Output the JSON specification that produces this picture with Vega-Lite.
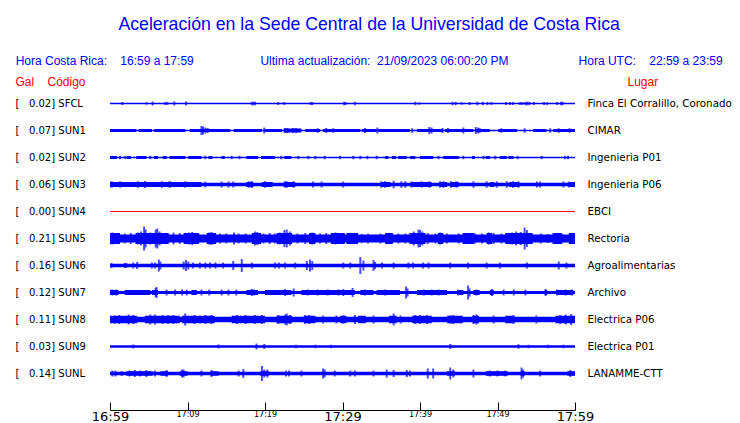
{
  "$schema": "https://vega.github.io/schema/vega-lite/v6.json",
  "width": 465,
  "height": 297,
  "autosize": "none",
  "padding": {"left": 110, "right": 165, "top": 90, "bottom": 36},
  "background": "white",
  "config": {"view": {"stroke": null}},
  "title": {
    "text": "Aceleración en la Sede Central de la Universidad de Costa Rica",
    "subtitle": "Hora Costa Rica:\u00a0\u00a0\u00a0\u00a016:59 a 17:59\u00a0\u00a0\u00a0\u00a0\u00a0\u00a0\u00a0\u00a0\u00a0\u00a0\u00a0\u00a0\u00a0\u00a0\u00a0\u00a0\u00a0\u00a0\u00a0\u00a0Ultima actualización:\u00a0\u00a021/09/2023 06:00:20 PM\u00a0\u00a0\u00a0\u00a0\u00a0\u00a0\u00a0\u00a0\u00a0\u00a0\u00a0\u00a0\u00a0\u00a0\u00a0\u00a0\u00a0\u00a0\u00a0\u00a0\u00a0Hora UTC:\u00a0\u00a0\u00a0\u00a022:59 a 23:59",
    "anchor": "middle",
    "frame": "bounds",
    "dx": -4,
    "font": "Liberation Sans",
    "fontSize": 17.7,
    "fontWeight": "normal",
    "color": "#0000ff",
    "subtitleFont": "Liberation Sans",
    "subtitleFontSize": 12,
    "subtitleColor": "#0000ff",
    "subtitlePadding": 22,
    "offset": 8
  },
  "datasets": {
    "estaciones": [
      {"s": "SFCL", "g": "0.02", "lab": "[\u00a0\u00a0\u00a00.02] SFCL", "lugar": "Finca El Corralillo, Coronado", "w": 1.3},
      {"s": "SUN1", "g": "0.07", "lab": "[\u00a0\u00a0\u00a00.07] SUN1", "lugar": "CIMAR", "w": 1.5},
      {"s": "SUN2", "g": "0.02", "lab": "[\u00a0\u00a0\u00a00.02] SUN2", "lugar": "Ingenieria P01", "w": 1.3},
      {"s": "SUN3", "g": "0.06", "lab": "[\u00a0\u00a0\u00a00.06] SUN3", "lugar": "Ingenieria P06", "w": 3.5},
      {"s": "SUN4", "g": "0.00", "lab": "[\u00a0\u00a0\u00a00.00] SUN4", "lugar": "EBCI", "w": 1},
      {"s": "SUN5", "g": "0.21", "lab": "[\u00a0\u00a0\u00a00.21] SUN5", "lugar": "Rectoria", "w": 8},
      {"s": "SUN6", "g": "0.16", "lab": "[\u00a0\u00a0\u00a00.16] SUN6", "lugar": "Agroalimentarias", "w": 3.5},
      {"s": "SUN7", "g": "0.12", "lab": "[\u00a0\u00a0\u00a00.12] SUN7", "lugar": "Archivo", "w": 3},
      {"s": "SUN8", "g": "0.11", "lab": "[\u00a0\u00a0\u00a00.11] SUN8", "lugar": "Electrica P06", "w": 5.5},
      {"s": "SUN9", "g": "0.03", "lab": "[\u00a0\u00a0\u00a00.03] SUN9", "lugar": "Electrica P01", "w": 2.5},
      {"s": "SUNL", "g": "0.14", "lab": "[\u00a0\u00a0\u00a00.14] SUNL", "lugar": "LANAMME-CTT", "w": 3.5}
    ],
    "segmentos": [
      {"s": "SUN1", "t0": 0, "t1": 3.4, "w": 3},
      {"s": "SUN1", "t0": 3.7, "t1": 5.4, "w": 3},
      {"s": "SUN1", "t0": 5.7, "t1": 9.7, "w": 3},
      {"s": "SUN1", "t0": 10.3, "t1": 15.5, "w": 3},
      {"s": "SUN1", "t0": 16.0, "t1": 19.6, "w": 3},
      {"s": "SUN1", "t0": 20.0, "t1": 22.2, "w": 3},
      {"s": "SUN1", "t0": 22.4, "t1": 24.7, "w": 4},
      {"s": "SUN1", "t0": 25.2, "t1": 27.1, "w": 3},
      {"s": "SUN1", "t0": 27.5, "t1": 32.3, "w": 3},
      {"s": "SUN1", "t0": 32.5, "t1": 34.4, "w": 3},
      {"s": "SUN1", "t0": 34.6, "t1": 38.7, "w": 3},
      {"s": "SUN1", "t0": 39.6, "t1": 43.0, "w": 3},
      {"s": "SUN1", "t0": 43.2, "t1": 46.9, "w": 3},
      {"s": "SUN1", "t0": 47.1, "t1": 49.0, "w": 3},
      {"s": "SUN1", "t0": 50.1, "t1": 52.5, "w": 3},
      {"s": "SUN1", "t0": 54.6, "t1": 56.3, "w": 3},
      {"s": "SUN1", "t0": 57.2, "t1": 60, "w": 3},
      {"s": "SUN2", "t0": 0, "t1": 0.9, "w": 3},
      {"s": "SUN2", "t0": 2.2, "t1": 2.7, "w": 3},
      {"s": "SUN2", "t0": 3.4, "t1": 4.7, "w": 3},
      {"s": "SUN2", "t0": 5.7, "t1": 6.2, "w": 3},
      {"s": "SUN2", "t0": 6.8, "t1": 7.3, "w": 3},
      {"s": "SUN2", "t0": 7.7, "t1": 9.7, "w": 3},
      {"s": "SUN2", "t0": 10.1, "t1": 11.8, "w": 3},
      {"s": "SUN2", "t0": 12.7, "t1": 13.2, "w": 3},
      {"s": "SUN2", "t0": 14.4, "t1": 14.8, "w": 3},
      {"s": "SUN2", "t0": 17.6, "t1": 19.1, "w": 3},
      {"s": "SUN2", "t0": 19.5, "t1": 21.3, "w": 3},
      {"s": "SUN2", "t0": 22.5, "t1": 23.4, "w": 3},
      {"s": "SUN2", "t0": 35.5, "t1": 35.9, "w": 3},
      {"s": "SUN2", "t0": 36.4, "t1": 36.9, "w": 3},
      {"s": "SUN2", "t0": 37.2, "t1": 38.3, "w": 3},
      {"s": "SUN2", "t0": 38.7, "t1": 39.4, "w": 3},
      {"s": "SUN2", "t0": 40.0, "t1": 41.7, "w": 3},
      {"s": "SUN2", "t0": 43.0, "t1": 45.0, "w": 3},
      {"s": "SUN2", "t0": 46.7, "t1": 47.1, "w": 3},
      {"s": "SUN2", "t0": 48.5, "t1": 49.0, "w": 3},
      {"s": "SUN2", "t0": 50.3, "t1": 51.2, "w": 3},
      {"s": "SUN2", "t0": 51.4, "t1": 52.05, "w": 3},
      {"s": "SUN3", "t0": 0, "t1": 11.8, "w": 5},
      {"s": "SUN3", "t0": 17.6, "t1": 18.5, "w": 5},
      {"s": "SUN3", "t0": 19.6, "t1": 21.0, "w": 5},
      {"s": "SUN3", "t0": 22.4, "t1": 23.9, "w": 5},
      {"s": "SUN3", "t0": 35.0, "t1": 36.2, "w": 5},
      {"s": "SUN3", "t0": 39.0, "t1": 41.5, "w": 5},
      {"s": "SUN3", "t0": 42.5, "t1": 43.5, "w": 5},
      {"s": "SUN3", "t0": 44.0, "t1": 45.0, "w": 5},
      {"s": "SUN3", "t0": 49.0, "t1": 49.6, "w": 5},
      {"s": "SUN3", "t0": 51.5, "t1": 52.8, "w": 5},
      {"s": "SUN3", "t0": 59.3, "t1": 60, "w": 5},
      {"s": "SUN5", "t0": 0, "t1": 1.3, "w": 11},
      {"s": "SUN5", "t0": 3.3, "t1": 7.5, "w": 11},
      {"s": "SUN5", "t0": 9.5, "t1": 11.5, "w": 11},
      {"s": "SUN5", "t0": 12.5, "t1": 13.7, "w": 11},
      {"s": "SUN5", "t0": 18.3, "t1": 19.5, "w": 11},
      {"s": "SUN5", "t0": 21.5, "t1": 23.5, "w": 11},
      {"s": "SUN5", "t0": 25.7, "t1": 26.5, "w": 11},
      {"s": "SUN5", "t0": 28.5, "t1": 30.3, "w": 11},
      {"s": "SUN5", "t0": 30.5, "t1": 32.0, "w": 11},
      {"s": "SUN5", "t0": 35.5, "t1": 36.5, "w": 11},
      {"s": "SUN5", "t0": 38.8, "t1": 40.7, "w": 11},
      {"s": "SUN5", "t0": 42.3, "t1": 43.0, "w": 11},
      {"s": "SUN5", "t0": 45.5, "t1": 47.0, "w": 11},
      {"s": "SUN5", "t0": 48.6, "t1": 49.3, "w": 11},
      {"s": "SUN5", "t0": 51.0, "t1": 54.5, "w": 11},
      {"s": "SUN5", "t0": 57.2, "t1": 58.3, "w": 11},
      {"s": "SUN5", "t0": 59.2, "t1": 60, "w": 11},
      {"s": "SUN7", "t0": 0, "t1": 1.1, "w": 5},
      {"s": "SUN7", "t0": 1.9, "t1": 5.2, "w": 5},
      {"s": "SUN7", "t0": 5.4, "t1": 6.2, "w": 5},
      {"s": "SUN7", "t0": 10.5, "t1": 11.2, "w": 5},
      {"s": "SUN7", "t0": 17.6, "t1": 19.1, "w": 5},
      {"s": "SUN7", "t0": 20.0, "t1": 23.4, "w": 5},
      {"s": "SUN7", "t0": 24.7, "t1": 31.6, "w": 5},
      {"s": "SUN7", "t0": 32.3, "t1": 34.0, "w": 5},
      {"s": "SUN7", "t0": 34.4, "t1": 37.4, "w": 5},
      {"s": "SUN7", "t0": 39.6, "t1": 43.5, "w": 5},
      {"s": "SUN7", "t0": 45.0, "t1": 45.6, "w": 5},
      {"s": "SUN7", "t0": 46.9, "t1": 47.7, "w": 5},
      {"s": "SUN7", "t0": 49.0, "t1": 49.5, "w": 5},
      {"s": "SUN7", "t0": 56.1, "t1": 56.4, "w": 5},
      {"s": "SUN7", "t0": 57.6, "t1": 59.8, "w": 5},
      {"s": "SUN8", "t0": 0, "t1": 3.5, "w": 7.5},
      {"s": "SUN8", "t0": 4.5, "t1": 9.0, "w": 7.5},
      {"s": "SUN8", "t0": 9.3, "t1": 13.5, "w": 7.5},
      {"s": "SUN8", "t0": 15.7, "t1": 20.0, "w": 7.5},
      {"s": "SUN8", "t0": 21.5, "t1": 23.5, "w": 7.5},
      {"s": "SUN8", "t0": 25.0, "t1": 26.5, "w": 7.5},
      {"s": "SUN8", "t0": 29.7, "t1": 30.5, "w": 7.5},
      {"s": "SUN8", "t0": 32.0, "t1": 33.0, "w": 7.5},
      {"s": "SUN8", "t0": 36.0, "t1": 37.0, "w": 7.5},
      {"s": "SUN8", "t0": 39.0, "t1": 41.5, "w": 7.5},
      {"s": "SUN8", "t0": 43.5, "t1": 45.5, "w": 7.5},
      {"s": "SUN8", "t0": 46.8, "t1": 47.6, "w": 7.5},
      {"s": "SUN8", "t0": 51.0, "t1": 52.0, "w": 7.5},
      {"s": "SUN8", "t0": 57.5, "t1": 60, "w": 7.5},
      {"s": "SUNL", "t0": 2.1, "t1": 5.5, "w": 4.5},
      {"s": "SUNL", "t0": 6.5, "t1": 7.5, "w": 4.5},
      {"s": "SUNL", "t0": 9.0, "t1": 10.0, "w": 4.5},
      {"s": "SUNL", "t0": 13.0, "t1": 14.0, "w": 4.5},
      {"s": "SUNL", "t0": 19.4, "t1": 20.5, "w": 4.5},
      {"s": "SUNL", "t0": 43.5, "t1": 44.5, "w": 4.5},
      {"s": "SUNL", "t0": 48.5, "t1": 51.3, "w": 4.5},
      {"s": "SUNL", "t0": 53.0, "t1": 53.5, "w": 4.5},
      {"s": "SUNL", "t0": 59.0, "t1": 60, "w": 4.5}
    ],
    "picos": [
      {"s": "SFCL", "t": 1.6, "a": 3}, {"s": "SFCL", "t": 4.7, "a": 2.5}, {"s": "SFCL", "t": 5.5, "a": 4},
      {"s": "SFCL", "t": 7.1, "a": 3}, {"s": "SFCL", "t": 7.4, "a": 3}, {"s": "SFCL", "t": 8.3, "a": 4},
      {"s": "SFCL", "t": 9.8, "a": 4}, {"s": "SFCL", "t": 18.3, "a": 3.5}, {"s": "SFCL", "t": 18.5, "a": 3.5},
      {"s": "SFCL", "t": 18.7, "a": 3.5}, {"s": "SFCL", "t": 21.7, "a": 3}, {"s": "SFCL", "t": 22.5, "a": 3},
      {"s": "SFCL", "t": 25.9, "a": 3}, {"s": "SFCL", "t": 26.1, "a": 3}, {"s": "SFCL", "t": 30.2, "a": 3.5},
      {"s": "SFCL", "t": 30.4, "a": 3}, {"s": "SFCL", "t": 31.6, "a": 3.5}, {"s": "SFCL", "t": 39.4, "a": 3.5},
      {"s": "SFCL", "t": 39.9, "a": 2.5}, {"s": "SFCL", "t": 44.2, "a": 3.5}, {"s": "SFCL", "t": 44.6, "a": 3.5},
      {"s": "SFCL", "t": 45.4, "a": 2.5}, {"s": "SFCL", "t": 46.4, "a": 3}, {"s": "SFCL", "t": 47.4, "a": 3.5},
      {"s": "SFCL", "t": 48.1, "a": 3.5}, {"s": "SFCL", "t": 48.7, "a": 3}, {"s": "SFCL", "t": 49.2, "a": 3},
      {"s": "SFCL", "t": 51.1, "a": 3}, {"s": "SFCL", "t": 51.6, "a": 3}, {"s": "SFCL", "t": 52.0, "a": 3},
      {"s": "SFCL", "t": 52.9, "a": 3}, {"s": "SFCL", "t": 53.2, "a": 3}, {"s": "SFCL", "t": 53.6, "a": 3.5},
      {"s": "SFCL", "t": 53.8, "a": 3.5}, {"s": "SFCL", "t": 54.1, "a": 3.5}, {"s": "SFCL", "t": 54.7, "a": 3},
      {"s": "SFCL", "t": 56.0, "a": 3}, {"s": "SFCL", "t": 56.4, "a": 3}, {"s": "SFCL", "t": 57.7, "a": 3},
      {"s": "SFCL", "t": 58.2, "a": 3.5}, {"s": "SFCL", "t": 58.4, "a": 3.5},
      {"s": "SUN1", "t": 11.8, "a": 9}, {"s": "SUN1", "t": 12.0, "a": 8}, {"s": "SUN1", "t": 12.3, "a": 6},
      {"s": "SUN1", "t": 12.6, "a": 5}, {"s": "SUN1", "t": 19.9, "a": 6}, {"s": "SUN1", "t": 22.6, "a": 5},
      {"s": "SUN1", "t": 22.9, "a": 5}, {"s": "SUN1", "t": 23.6, "a": 5}, {"s": "SUN1", "t": 24.0, "a": 5},
      {"s": "SUN1", "t": 26.8, "a": 4.5}, {"s": "SUN1", "t": 27.9, "a": 5}, {"s": "SUN1", "t": 28.8, "a": 4.5},
      {"s": "SUN1", "t": 32.9, "a": 5}, {"s": "SUN1", "t": 34.5, "a": 6}, {"s": "SUN1", "t": 39.0, "a": 4.5},
      {"s": "SUN1", "t": 41.2, "a": 7}, {"s": "SUN1", "t": 41.5, "a": 6}, {"s": "SUN1", "t": 42.9, "a": 5},
      {"s": "SUN1", "t": 43.6, "a": 5}, {"s": "SUN1", "t": 45.6, "a": 6}, {"s": "SUN1", "t": 47.2, "a": 7},
      {"s": "SUN1", "t": 47.5, "a": 6}, {"s": "SUN1", "t": 47.7, "a": 5}, {"s": "SUN1", "t": 50.5, "a": 4.5},
      {"s": "SUN1", "t": 53.5, "a": 4.5}, {"s": "SUN1", "t": 56.8, "a": 4.5}, {"s": "SUN1", "t": 57.9, "a": 4.5},
      {"s": "SUN1", "t": 59.3, "a": 4.5},
      {"s": "SUN2", "t": 1.3, "a": 3.5}, {"s": "SUN2", "t": 2.0, "a": 3.5}, {"s": "SUN2", "t": 5.2, "a": 3.5},
      {"s": "SUN2", "t": 12.3, "a": 3.5}, {"s": "SUN2", "t": 15.7, "a": 3.5}, {"s": "SUN2", "t": 16.7, "a": 3.5},
      {"s": "SUN2", "t": 22.1, "a": 3.5}, {"s": "SUN2", "t": 24.3, "a": 3.5}, {"s": "SUN2", "t": 25.6, "a": 3.5},
      {"s": "SUN2", "t": 26.5, "a": 3.5}, {"s": "SUN2", "t": 27.7, "a": 3.5}, {"s": "SUN2", "t": 29.7, "a": 3.5},
      {"s": "SUN2", "t": 31.4, "a": 3.5}, {"s": "SUN2", "t": 32.3, "a": 3.5}, {"s": "SUN2", "t": 33.2, "a": 3.5},
      {"s": "SUN2", "t": 34.4, "a": 3.5}, {"s": "SUN2", "t": 42.4, "a": 3.5}, {"s": "SUN2", "t": 45.6, "a": 3.5},
      {"s": "SUN2", "t": 48.2, "a": 3.5}, {"s": "SUN2", "t": 49.7, "a": 3.5}, {"s": "SUN2", "t": 52.6, "a": 3.5},
      {"s": "SUN2", "t": 55.7, "a": 3.5}, {"s": "SUN2", "t": 58.7, "a": 3.5}, {"s": "SUN2", "t": 59.1, "a": 3.5},
      {"s": "SUN3", "t": 0.2, "a": 6.5}, {"s": "SUN3", "t": 1.3, "a": 6.5}, {"s": "SUN3", "t": 3.6, "a": 6.5},
      {"s": "SUN3", "t": 4.5, "a": 7}, {"s": "SUN3", "t": 6.7, "a": 6.5}, {"s": "SUN3", "t": 7.7, "a": 7},
      {"s": "SUN3", "t": 9.7, "a": 6.5}, {"s": "SUN3", "t": 12.3, "a": 6}, {"s": "SUN3", "t": 14.4, "a": 6},
      {"s": "SUN3", "t": 15.3, "a": 6}, {"s": "SUN3", "t": 15.9, "a": 6}, {"s": "SUN3", "t": 17.9, "a": 6.5},
      {"s": "SUN3", "t": 18.3, "a": 7}, {"s": "SUN3", "t": 20.0, "a": 6.5}, {"s": "SUN3", "t": 22.6, "a": 6.5},
      {"s": "SUN3", "t": 22.8, "a": 6.5}, {"s": "SUN3", "t": 23.7, "a": 6.5}, {"s": "SUN3", "t": 26.2, "a": 6},
      {"s": "SUN3", "t": 27.3, "a": 6}, {"s": "SUN3", "t": 30.1, "a": 6}, {"s": "SUN3", "t": 35.0, "a": 6.5},
      {"s": "SUN3", "t": 35.5, "a": 6.5}, {"s": "SUN3", "t": 36.6, "a": 7.5}, {"s": "SUN3", "t": 37.6, "a": 6.5},
      {"s": "SUN3", "t": 38.1, "a": 6.5}, {"s": "SUN3", "t": 38.9, "a": 6.5}, {"s": "SUN3", "t": 40.2, "a": 6.5},
      {"s": "SUN3", "t": 41.2, "a": 6.5}, {"s": "SUN3", "t": 42.6, "a": 6.5}, {"s": "SUN3", "t": 43.0, "a": 6.5},
      {"s": "SUN3", "t": 44.0, "a": 6.5}, {"s": "SUN3", "t": 44.7, "a": 6.5}, {"s": "SUN3", "t": 46.9, "a": 6.5},
      {"s": "SUN3", "t": 48.6, "a": 6.5}, {"s": "SUN3", "t": 49.9, "a": 6.5}, {"s": "SUN3", "t": 51.2, "a": 6.5},
      {"s": "SUN3", "t": 52.0, "a": 6.5}, {"s": "SUN3", "t": 52.7, "a": 6.5}, {"s": "SUN3", "t": 55.1, "a": 6},
      {"s": "SUN3", "t": 55.5, "a": 6}, {"s": "SUN3", "t": 58.5, "a": 6}, {"s": "SUN3", "t": 59.2, "a": 6},
      {"s": "SUN5", "t": 0.3, "a": 12}, {"s": "SUN5", "t": 1.9, "a": 10}, {"s": "SUN5", "t": 2.7, "a": 11},
      {"s": "SUN5", "t": 3.6, "a": 12}, {"s": "SUN5", "t": 4.0, "a": 14}, {"s": "SUN5", "t": 4.4, "a": 24},
      {"s": "SUN5", "t": 4.6, "a": 18}, {"s": "SUN5", "t": 5.2, "a": 12}, {"s": "SUN5", "t": 5.9, "a": 18},
      {"s": "SUN5", "t": 6.1, "a": 20}, {"s": "SUN5", "t": 6.4, "a": 14}, {"s": "SUN5", "t": 7.5, "a": 11},
      {"s": "SUN5", "t": 8.2, "a": 12}, {"s": "SUN5", "t": 9.0, "a": 11}, {"s": "SUN5", "t": 10.2, "a": 12},
      {"s": "SUN5", "t": 10.6, "a": 13}, {"s": "SUN5", "t": 11.2, "a": 11}, {"s": "SUN5", "t": 12.8, "a": 12},
      {"s": "SUN5", "t": 13.1, "a": 13}, {"s": "SUN5", "t": 14.2, "a": 10}, {"s": "SUN5", "t": 15.0, "a": 10},
      {"s": "SUN5", "t": 16.0, "a": 12}, {"s": "SUN5", "t": 16.6, "a": 10}, {"s": "SUN5", "t": 17.5, "a": 10},
      {"s": "SUN5", "t": 18.7, "a": 14}, {"s": "SUN5", "t": 19.0, "a": 13}, {"s": "SUN5", "t": 19.8, "a": 10},
      {"s": "SUN5", "t": 20.6, "a": 11}, {"s": "SUN5", "t": 21.3, "a": 10}, {"s": "SUN5", "t": 21.9, "a": 12},
      {"s": "SUN5", "t": 22.5, "a": 17}, {"s": "SUN5", "t": 22.8, "a": 18}, {"s": "SUN5", "t": 23.2, "a": 14},
      {"s": "SUN5", "t": 24.2, "a": 10}, {"s": "SUN5", "t": 25.2, "a": 11}, {"s": "SUN5", "t": 26.1, "a": 12},
      {"s": "SUN5", "t": 27.1, "a": 10}, {"s": "SUN5", "t": 27.9, "a": 11}, {"s": "SUN5", "t": 29.1, "a": 12},
      {"s": "SUN5", "t": 29.5, "a": 11}, {"s": "SUN5", "t": 30.0, "a": 10}, {"s": "SUN5", "t": 30.8, "a": 11},
      {"s": "SUN5", "t": 31.4, "a": 11}, {"s": "SUN5", "t": 32.5, "a": 9}, {"s": "SUN5", "t": 33.3, "a": 10},
      {"s": "SUN5", "t": 34.9, "a": 10}, {"s": "SUN5", "t": 35.7, "a": 11}, {"s": "SUN5", "t": 36.1, "a": 11},
      {"s": "SUN5", "t": 37.2, "a": 10}, {"s": "SUN5", "t": 38.1, "a": 10}, {"s": "SUN5", "t": 38.7, "a": 11},
      {"s": "SUN5", "t": 39.2, "a": 14}, {"s": "SUN5", "t": 39.8, "a": 18}, {"s": "SUN5", "t": 40.0, "a": 17},
      {"s": "SUN5", "t": 40.3, "a": 14}, {"s": "SUN5", "t": 41.0, "a": 11}, {"s": "SUN5", "t": 42.0, "a": 10},
      {"s": "SUN5", "t": 42.6, "a": 12}, {"s": "SUN5", "t": 43.5, "a": 10}, {"s": "SUN5", "t": 45.0, "a": 10},
      {"s": "SUN5", "t": 46.1, "a": 10}, {"s": "SUN5", "t": 47.1, "a": 10}, {"s": "SUN5", "t": 48.0, "a": 10},
      {"s": "SUN5", "t": 48.9, "a": 12}, {"s": "SUN5", "t": 49.5, "a": 11}, {"s": "SUN5", "t": 50.5, "a": 10},
      {"s": "SUN5", "t": 51.4, "a": 11}, {"s": "SUN5", "t": 51.9, "a": 12}, {"s": "SUN5", "t": 52.4, "a": 14},
      {"s": "SUN5", "t": 53.0, "a": 13}, {"s": "SUN5", "t": 53.5, "a": 22}, {"s": "SUN5", "t": 53.8, "a": 17},
      {"s": "SUN5", "t": 54.4, "a": 11}, {"s": "SUN5", "t": 55.6, "a": 10}, {"s": "SUN5", "t": 56.5, "a": 9},
      {"s": "SUN5", "t": 57.2, "a": 11}, {"s": "SUN5", "t": 57.6, "a": 11}, {"s": "SUN5", "t": 58.3, "a": 10},
      {"s": "SUN5", "t": 59.4, "a": 11}, {"s": "SUN5", "t": 59.8, "a": 10},
      {"s": "SUN6", "t": 0.2, "a": 5}, {"s": "SUN6", "t": 1.9, "a": 5}, {"s": "SUN6", "t": 2.1, "a": 5},
      {"s": "SUN6", "t": 3.0, "a": 6}, {"s": "SUN6", "t": 3.5, "a": 7}, {"s": "SUN6", "t": 5.4, "a": 6},
      {"s": "SUN6", "t": 5.8, "a": 6}, {"s": "SUN6", "t": 6.3, "a": 12}, {"s": "SUN6", "t": 6.5, "a": 8},
      {"s": "SUN6", "t": 9.5, "a": 8}, {"s": "SUN6", "t": 9.8, "a": 11}, {"s": "SUN6", "t": 10.1, "a": 8},
      {"s": "SUN6", "t": 10.7, "a": 6}, {"s": "SUN6", "t": 11.6, "a": 6}, {"s": "SUN6", "t": 12.3, "a": 6},
      {"s": "SUN6", "t": 12.9, "a": 6}, {"s": "SUN6", "t": 13.6, "a": 6}, {"s": "SUN6", "t": 14.6, "a": 6},
      {"s": "SUN6", "t": 15.9, "a": 9}, {"s": "SUN6", "t": 17.0, "a": 13}, {"s": "SUN6", "t": 18.3, "a": 6},
      {"s": "SUN6", "t": 21.3, "a": 6}, {"s": "SUN6", "t": 21.8, "a": 6}, {"s": "SUN6", "t": 22.6, "a": 6},
      {"s": "SUN6", "t": 23.9, "a": 6}, {"s": "SUN6", "t": 25.4, "a": 9}, {"s": "SUN6", "t": 25.8, "a": 12},
      {"s": "SUN6", "t": 26.1, "a": 9}, {"s": "SUN6", "t": 30.1, "a": 6}, {"s": "SUN6", "t": 31.0, "a": 6},
      {"s": "SUN6", "t": 32.3, "a": 17}, {"s": "SUN6", "t": 32.7, "a": 10}, {"s": "SUN6", "t": 34.0, "a": 11},
      {"s": "SUN6", "t": 34.2, "a": 7}, {"s": "SUN6", "t": 35.1, "a": 6}, {"s": "SUN6", "t": 36.6, "a": 6},
      {"s": "SUN6", "t": 38.5, "a": 6}, {"s": "SUN6", "t": 39.1, "a": 6}, {"s": "SUN6", "t": 40.4, "a": 6},
      {"s": "SUN6", "t": 41.1, "a": 6}, {"s": "SUN6", "t": 43.9, "a": 6}, {"s": "SUN6", "t": 46.2, "a": 6},
      {"s": "SUN6", "t": 48.6, "a": 6}, {"s": "SUN6", "t": 50.3, "a": 6}, {"s": "SUN6", "t": 53.8, "a": 6},
      {"s": "SUN6", "t": 57.9, "a": 8}, {"s": "SUN6", "t": 58.9, "a": 6},
      {"s": "SUN7", "t": 0.3, "a": 6}, {"s": "SUN7", "t": 0.8, "a": 6}, {"s": "SUN7", "t": 5.9, "a": 9},
      {"s": "SUN7", "t": 6.0, "a": 11}, {"s": "SUN7", "t": 7.3, "a": 6}, {"s": "SUN7", "t": 8.4, "a": 6},
      {"s": "SUN7", "t": 9.3, "a": 6}, {"s": "SUN7", "t": 9.9, "a": 6}, {"s": "SUN7", "t": 11.8, "a": 6},
      {"s": "SUN7", "t": 12.8, "a": 6}, {"s": "SUN7", "t": 14.4, "a": 6}, {"s": "SUN7", "t": 15.3, "a": 6},
      {"s": "SUN7", "t": 16.3, "a": 6}, {"s": "SUN7", "t": 18.3, "a": 7}, {"s": "SUN7", "t": 18.6, "a": 6},
      {"s": "SUN7", "t": 22.6, "a": 7}, {"s": "SUN7", "t": 23.7, "a": 8}, {"s": "SUN7", "t": 25.5, "a": 6},
      {"s": "SUN7", "t": 26.8, "a": 6}, {"s": "SUN7", "t": 28.1, "a": 6}, {"s": "SUN7", "t": 29.5, "a": 6},
      {"s": "SUN7", "t": 30.1, "a": 7}, {"s": "SUN7", "t": 31.3, "a": 9}, {"s": "SUN7", "t": 32.9, "a": 6},
      {"s": "SUN7", "t": 35.5, "a": 6}, {"s": "SUN7", "t": 38.2, "a": 12}, {"s": "SUN7", "t": 38.4, "a": 8},
      {"s": "SUN7", "t": 40.5, "a": 6}, {"s": "SUN7", "t": 41.5, "a": 6}, {"s": "SUN7", "t": 42.4, "a": 6},
      {"s": "SUN7", "t": 44.9, "a": 6}, {"s": "SUN7", "t": 46.2, "a": 14}, {"s": "SUN7", "t": 46.4, "a": 8},
      {"s": "SUN7", "t": 47.3, "a": 6}, {"s": "SUN7", "t": 49.3, "a": 7}, {"s": "SUN7", "t": 50.8, "a": 6},
      {"s": "SUN7", "t": 52.1, "a": 6}, {"s": "SUN7", "t": 53.6, "a": 6}, {"s": "SUN7", "t": 56.2, "a": 7},
      {"s": "SUN7", "t": 57.7, "a": 6}, {"s": "SUN7", "t": 58.8, "a": 6}, {"s": "SUN7", "t": 59.6, "a": 6},
      {"s": "SUN8", "t": 0.6, "a": 8}, {"s": "SUN8", "t": 1.2, "a": 9}, {"s": "SUN8", "t": 2.4, "a": 10},
      {"s": "SUN8", "t": 3.0, "a": 9}, {"s": "SUN8", "t": 5.2, "a": 10}, {"s": "SUN8", "t": 5.8, "a": 10},
      {"s": "SUN8", "t": 6.8, "a": 9}, {"s": "SUN8", "t": 7.5, "a": 9}, {"s": "SUN8", "t": 8.2, "a": 9},
      {"s": "SUN8", "t": 9.7, "a": 12}, {"s": "SUN8", "t": 10.9, "a": 9}, {"s": "SUN8", "t": 12.3, "a": 9},
      {"s": "SUN8", "t": 13.1, "a": 9}, {"s": "SUN8", "t": 16.4, "a": 9}, {"s": "SUN8", "t": 17.5, "a": 9},
      {"s": "SUN8", "t": 18.7, "a": 9}, {"s": "SUN8", "t": 19.6, "a": 9}, {"s": "SUN8", "t": 21.7, "a": 9},
      {"s": "SUN8", "t": 22.6, "a": 10}, {"s": "SUN8", "t": 22.8, "a": 12}, {"s": "SUN8", "t": 23.2, "a": 9},
      {"s": "SUN8", "t": 25.2, "a": 9}, {"s": "SUN8", "t": 25.7, "a": 9}, {"s": "SUN8", "t": 27.5, "a": 8},
      {"s": "SUN8", "t": 29.2, "a": 8}, {"s": "SUN8", "t": 30.1, "a": 8}, {"s": "SUN8", "t": 31.6, "a": 9},
      {"s": "SUN8", "t": 34.0, "a": 8}, {"s": "SUN8", "t": 36.6, "a": 12}, {"s": "SUN8", "t": 37.5, "a": 8},
      {"s": "SUN8", "t": 39.4, "a": 9}, {"s": "SUN8", "t": 40.0, "a": 9}, {"s": "SUN8", "t": 40.9, "a": 9},
      {"s": "SUN8", "t": 43.9, "a": 8}, {"s": "SUN8", "t": 44.3, "a": 9}, {"s": "SUN8", "t": 46.9, "a": 9},
      {"s": "SUN8", "t": 47.3, "a": 10}, {"s": "SUN8", "t": 49.5, "a": 8}, {"s": "SUN8", "t": 52.1, "a": 9},
      {"s": "SUN8", "t": 55.0, "a": 8}, {"s": "SUN8", "t": 58.1, "a": 9}, {"s": "SUN8", "t": 58.8, "a": 10},
      {"s": "SUN8", "t": 59.5, "a": 11},
      {"s": "SUN9", "t": 3.0, "a": 4}, {"s": "SUN9", "t": 14.0, "a": 4}, {"s": "SUN9", "t": 18.9, "a": 6},
      {"s": "SUN9", "t": 19.9, "a": 5}, {"s": "SUN9", "t": 24.0, "a": 3.5}, {"s": "SUN9", "t": 26.5, "a": 3.5},
      {"s": "SUN9", "t": 28.5, "a": 3.5}, {"s": "SUN9", "t": 43.9, "a": 5}, {"s": "SUN9", "t": 52.7, "a": 4.5},
      {"s": "SUN9", "t": 54.0, "a": 3.5}, {"s": "SUN9", "t": 56.5, "a": 3.5}, {"s": "SUN9", "t": 58.5, "a": 3.5},
      {"s": "SUNL", "t": 0.3, "a": 6}, {"s": "SUNL", "t": 0.7, "a": 6}, {"s": "SUNL", "t": 1.5, "a": 5},
      {"s": "SUNL", "t": 2.5, "a": 6}, {"s": "SUNL", "t": 3.2, "a": 7}, {"s": "SUNL", "t": 3.9, "a": 6},
      {"s": "SUNL", "t": 4.7, "a": 7}, {"s": "SUNL", "t": 5.8, "a": 6}, {"s": "SUNL", "t": 7.3, "a": 7},
      {"s": "SUNL", "t": 9.3, "a": 8}, {"s": "SUNL", "t": 9.5, "a": 8}, {"s": "SUNL", "t": 11.8, "a": 6},
      {"s": "SUNL", "t": 13.1, "a": 7}, {"s": "SUNL", "t": 16.6, "a": 6}, {"s": "SUNL", "t": 17.2, "a": 9},
      {"s": "SUNL", "t": 19.6, "a": 15}, {"s": "SUNL", "t": 19.9, "a": 8}, {"s": "SUNL", "t": 20.3, "a": 8},
      {"s": "SUNL", "t": 22.7, "a": 6}, {"s": "SUNL", "t": 23.1, "a": 6}, {"s": "SUNL", "t": 24.7, "a": 6},
      {"s": "SUNL", "t": 27.5, "a": 10}, {"s": "SUNL", "t": 27.7, "a": 8}, {"s": "SUNL", "t": 29.0, "a": 6},
      {"s": "SUNL", "t": 31.0, "a": 6}, {"s": "SUNL", "t": 31.6, "a": 6}, {"s": "SUNL", "t": 34.0, "a": 6},
      {"s": "SUNL", "t": 35.7, "a": 8}, {"s": "SUNL", "t": 36.6, "a": 7}, {"s": "SUNL", "t": 38.3, "a": 7},
      {"s": "SUNL", "t": 38.7, "a": 6}, {"s": "SUNL", "t": 41.0, "a": 10}, {"s": "SUNL", "t": 41.7, "a": 10},
      {"s": "SUNL", "t": 43.9, "a": 12}, {"s": "SUNL", "t": 44.3, "a": 8}, {"s": "SUNL", "t": 46.9, "a": 8},
      {"s": "SUNL", "t": 49.0, "a": 6}, {"s": "SUNL", "t": 50.0, "a": 6}, {"s": "SUNL", "t": 51.0, "a": 6},
      {"s": "SUNL", "t": 53.1, "a": 12}, {"s": "SUNL", "t": 53.3, "a": 8}, {"s": "SUNL", "t": 55.5, "a": 6},
      {"s": "SUNL", "t": 59.4, "a": 7}
    ]
  },
  "layer": [
    {
      "data": {"name": "estaciones"},
      "mark": {"type": "rule"},
      "encoding": {
        "x": {"datum": 0, "type": "quantitative", "scale": {"domain": [0, 60], "nice": false, "zero": false},
          "axis": {
            "values": [0, 5, 10, 15, 20, 25, 30, 35, 40, 45, 50, 55, 60],
            "labelExpr": "datum.value % 10 == 0 ? (floor((1019 + datum.value) / 60) + ':' + (((1019 + datum.value) % 60) < 10 ? '0' : '') + ((1019 + datum.value) % 60)) : ''",
            "offset": 23,
            "tickSize": -8,
            "labelPadding": 8,
            "labelBaseline": "top",
            "domainColor": "black",
            "tickColor": "black",
            "labelColor": "black",
            "labelFont": "DejaVu Sans",
            "labelFontSize": {"condition": {"test": "datum.value % 30 == 0", "value": 13}, "value": 8},
            "labelOverlap": false,
            "labelFlush": false,
            "grid": false,
            "title": null
          }},
        "x2": {"datum": 60},
        "y": {"field": "lugar", "type": "nominal", "sort": null,
          "scale": {"paddingInner": 0, "paddingOuter": 0},
          "axis": {"orient": "right", "domain": false, "ticks": false, "tickSize": 0, "grid": false,
            "labelAlign": "left", "labelPadding": 12, "labelFont": "DejaVu Sans", "labelFontSize": 10.3, "labelColor": "black",
            "title": "Lugar", "titleAngle": 0, "titleAlign": "left", "titleBaseline": "alphabetic",
            "titleX": 52, "titleY": -5, "titleColor": "#ff0000", "titleFont": "Liberation Sans", "titleFontSize": 12, "titleFontWeight": "normal"}},
        "strokeWidth": {"field": "w", "type": "quantitative", "scale": {"domain": [0, 27], "range": [0, 27]}, "legend": null},
        "color": {"condition": {"test": "datum.g == '0.00'", "value": "#ff0000"}, "value": "#0000ff"}
      }
    },
    {
      "data": {"name": "segmentos"},
      "transform": [{"lookup": "s", "from": {"data": {"name": "estaciones"}, "key": "s", "fields": ["lab"]}}],
      "mark": {"type": "rule", "color": "#0000ff"},
      "encoding": {
        "x": {"field": "t0", "type": "quantitative", "scale": {"domain": [0, 60], "nice": false, "zero": false}},
        "x2": {"field": "t1"},
        "y": {"field": "lab", "type": "nominal",
          "scale": {"paddingInner": 0, "paddingOuter": 0, "domain": ["[\u00a0\u00a0\u00a00.02] SFCL", "[\u00a0\u00a0\u00a00.07] SUN1", "[\u00a0\u00a0\u00a00.02] SUN2", "[\u00a0\u00a0\u00a00.06] SUN3", "[\u00a0\u00a0\u00a00.00] SUN4", "[\u00a0\u00a0\u00a00.21] SUN5", "[\u00a0\u00a0\u00a00.16] SUN6", "[\u00a0\u00a0\u00a00.12] SUN7", "[\u00a0\u00a0\u00a00.11] SUN8", "[\u00a0\u00a0\u00a00.03] SUN9", "[\u00a0\u00a0\u00a00.14] SUNL"]},
          "axis": {"orient": "left", "domain": false, "ticks": false, "tickSize": 0, "grid": false,
            "labelAlign": "left", "labelPadding": 95, "labelFont": "DejaVu Sans", "labelFontSize": 10, "labelColor": "black",
            "title": "Gal\u00a0\u00a0\u00a0\u00a0Código", "titleAngle": 0, "titleAlign": "left", "titleBaseline": "alphabetic",
            "titleX": -95, "titleY": -5, "titleColor": "#ff0000", "titleFont": "Liberation Sans", "titleFontSize": 12, "titleFontWeight": "normal"}},
        "strokeWidth": {"field": "w", "type": "quantitative", "scale": {"domain": [0, 27], "range": [0, 27]}, "legend": null}
      }
    },
    {
      "data": {"name": "picos"},
      "transform": [{"lookup": "s", "from": {"data": {"name": "estaciones"}, "key": "s", "fields": ["lab"]}}],
      "mark": {"type": "tick", "color": "#0000ff", "thickness": 2, "orient": "vertical"},
      "encoding": {
        "x": {"field": "t", "type": "quantitative", "scale": {"domain": [0, 60], "nice": false, "zero": false}},
        "y": {"field": "lab", "type": "nominal",
          "scale": {"paddingInner": 0, "paddingOuter": 0, "domain": ["[\u00a0\u00a0\u00a00.02] SFCL", "[\u00a0\u00a0\u00a00.07] SUN1", "[\u00a0\u00a0\u00a00.02] SUN2", "[\u00a0\u00a0\u00a00.06] SUN3", "[\u00a0\u00a0\u00a00.00] SUN4", "[\u00a0\u00a0\u00a00.21] SUN5", "[\u00a0\u00a0\u00a00.16] SUN6", "[\u00a0\u00a0\u00a00.12] SUN7", "[\u00a0\u00a0\u00a00.11] SUN8", "[\u00a0\u00a0\u00a00.03] SUN9", "[\u00a0\u00a0\u00a00.14] SUNL"]},
          "axis": null},
        "size": {"field": "a", "type": "quantitative", "scale": {"domain": [0, 27], "range": [0, 27]}, "legend": null}
      }
    }
  ],
  "resolve": {"scale": {"y": "independent"}, "axis": {"y": "independent"}}
}
